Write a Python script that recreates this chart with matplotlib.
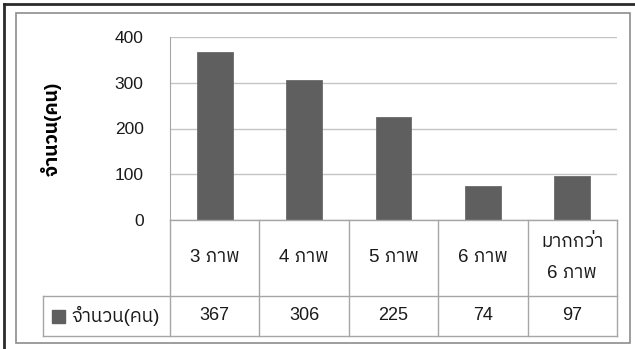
import matplotlib
matplotlib.use("Agg")
import matplotlib.pyplot as plt
from matplotlib import font_manager
from matplotlib.ft2font import FT2Font
from matplotlib.lines import Line2D
from matplotlib.patches import Rectangle

categories = ["3 ภาพ", "4 ภาพ", "5 ภาพ", "6 ภาพ", "มากกว่า\n6 ภาพ"]
counts = [367, 306, 225, 74, 97]
series_name = "จำนวน(คน)"
y_ticks = [0, 100, 200, 300, 400]


def find_thai_font():
    # pick an installed family that covers the Thai block
    found = []
    for entry in font_manager.fontManager.ttflist:
        try:
            if 0x0E20 in FT2Font(entry.fname).get_charmap():
                found.append(entry.name)
        except Exception:
            continue
    for name in found:
        if "Sans" in name:
            return name
    return found[0] if found else None


thai = find_thai_font()
families = ["Liberation Sans"] + ([thai] if thai else []) + ["DejaVu Sans"]
plt.rcParams["font.family"] = families
plt.rcParams["font.size"] = 12

W, H = 635, 349
fig = plt.figure(figsize=(W / 100, H / 100), dpi=100)


def fx(px):
    return px / W


def fy(py):
    return 1 - py / H


# plot area geometry in pixels
left, right, top, zero = 170, 617, 37, 220
cat_bottom, val_bottom, legend_left = 296, 336, 43

ax = fig.add_axes([fx(left), fy(zero), fx(right) - fx(left), fy(top) - fy(zero)])
x = list(range(len(categories)))
ax.bar(x, counts, width=0.4, color="#5f5f5f", edgecolor="#6a6a6a", linewidth=0.6, zorder=3)
ax.set_xlim(-0.5, len(categories) - 0.5)
ax.set_ylim(0, 400)
ax.set_yticks(y_ticks)
ax.set_yticklabels([str(t) for t in y_ticks], fontsize=12.5, color="#1a1a1a")
ax.set_xticks([])
ax.tick_params(axis="y", length=0, pad=19)
ax.yaxis.grid(True, color="#c4c4c4", linewidth=1)
ax.set_axisbelow(True)
for side in ("top", "right", "bottom"):
    ax.spines[side].set_visible(False)
ax.spines["left"].set_color("#a6a6a6")
ax.set_ylabel(series_name, fontsize=14, fontweight="bold", labelpad=38)

# data table under the chart
line_kw = dict(color="#a6a6a6", linewidth=1, transform=fig.transFigure)
col_w = (right - left) / len(categories)
edges = [left + i * col_w for i in range(len(categories) + 1)]
fig.add_artist(Line2D([fx(left), fx(right)], [fy(zero), fy(zero)], **line_kw))
fig.add_artist(Line2D([fx(legend_left), fx(right)], [fy(cat_bottom), fy(cat_bottom)], **line_kw))
fig.add_artist(Line2D([fx(legend_left), fx(right)], [fy(val_bottom), fy(val_bottom)], **line_kw))
fig.add_artist(Line2D([fx(legend_left), fx(legend_left)], [fy(cat_bottom), fy(val_bottom)], **line_kw))
for e in edges:
    fig.add_artist(Line2D([fx(e), fx(e)], [fy(zero), fy(val_bottom)], **line_kw))

for i, (cat, val) in enumerate(zip(categories, counts)):
    cx = fx(edges[i] + col_w / 2)
    fig.text(cx, fy((zero + cat_bottom) / 2), cat, ha="center", va="center",
             fontsize=13.5, linespacing=2.05, color="#1a1a1a")
    fig.text(cx, fy((cat_bottom + val_bottom) / 2), str(val), ha="center", va="center",
             fontsize=13, color="#1a1a1a")

# legend key in the value row
row_mid = (cat_bottom + val_bottom) / 2
fig.add_artist(Rectangle((fx(52), fy(row_mid + 7)), fx(13), fy(0) - fy(13),
                         transform=fig.transFigure, color="#5f5f5f"))
fig.text(fx(72), fy(row_mid), series_name, ha="left", va="center", fontsize=13.5,
         color="#1a1a1a")

# chart area border and outer frame
fig.add_artist(Rectangle((fx(16), fy(343)), fx(630) - fx(16), fy(13) - fy(343),
                         transform=fig.transFigure, fill=False, edgecolor="#8c8c8c", linewidth=1.2))
fig.add_artist(Line2D([fx(4), fx(635)], [fy(4), fy(4)], transform=fig.transFigure,
                      color="#2b2b2b", linewidth=2))
fig.add_artist(Line2D([fx(4), fx(4)], [fy(4), fy(349)], transform=fig.transFigure,
                      color="#2b2b2b", linewidth=2))

fig.savefig("out.png", dpi=100)
plt.close(fig)
